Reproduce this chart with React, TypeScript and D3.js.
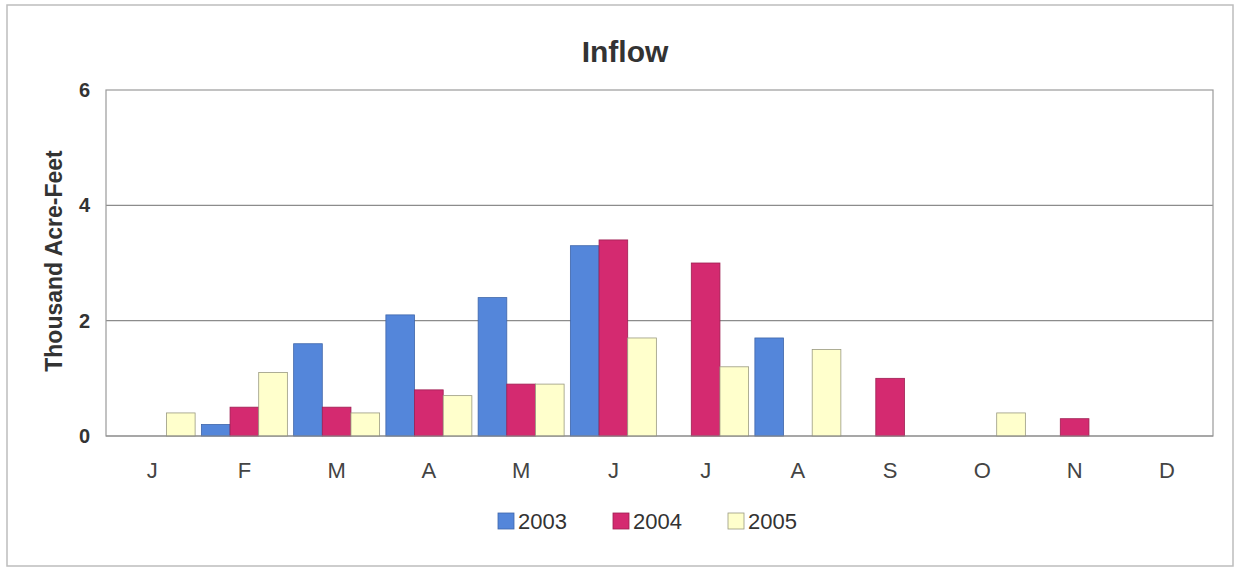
import React from "react";
import * as d3 from "d3";

const months = ["J", "F", "M", "A", "M", "J", "J", "A", "S", "O", "N", "D"];
const seriesNames = ["2003", "2004", "2005"];
const values2003 = [0, 0.2, 1.6, 2.1, 2.4, 3.3, 0, 1.7, 0, 0, 0, 0];
const values2004 = [0, 0.5, 0.5, 0.8, 0.9, 3.4, 3.0, 0, 1.0, 0, 0.3, 0];
const values2005 = [0.4, 1.1, 0.4, 0.7, 0.9, 1.7, 1.2, 1.5, 0, 0.4, 0, 0];
const yTicks = [0, 2, 4, 6];

const fills = ["#5486DA", "#D42A70", "#FFFFCC"];
const strokes = ["#3F66AA", "#9E1F52", "#9A9A80"];

export default function App() {
  const W = 1242, H = 571;
  const left = 106, right = 1213, top = 90, bottom = 436;
  const font = "'Liberation Sans', Arial, sans-serif";
  const seriesVals = [values2003, values2004, values2005];
  const idx = months.map((_, i) => i);
  const x = d3.scaleBand<number>().domain(idx).range([left, right]).paddingInner(0.068).paddingOuter(0.034);
  const xs = d3.scaleBand<number>().domain([0, 1, 2]).range([0, x.bandwidth()]);
  const y = d3.scaleLinear().domain([0, 6]).range([bottom, top]);

  return (
    <svg width={W} height={H} style={{ position: "absolute", left: 0, top: 0, background: "#fff" }} fontFamily={font}>
      <rect x={7} y={5} width={1226} height={561} fill="#fff" stroke="#bdbdbd" strokeWidth={1.5} />
      <text x={625} y={62} textAnchor="middle" fontSize={30} fontWeight="bold" fill="#333">Inflow</text>
      {yTicks.filter(t => t > 0 && t < 6).map(t => (
        <line key={t} x1={left} x2={right} y1={y(t)} y2={y(t)} stroke="#8c8c8c" strokeWidth={1.2} />
      ))}
      <rect x={left} y={top} width={right - left} height={bottom - top} fill="none" stroke="#9a9a9a" strokeWidth={1.2} />
      {yTicks.map(t => (
        <text key={t} x={90} y={y(t) + 7} textAnchor="end" fontSize={20} fontWeight="bold" fill="#333">{t}</text>
      ))}
      <text transform={`translate(62,261) rotate(-90)`} textAnchor="middle" fontSize={23} fontWeight="bold" fill="#333">Thousand Acre-Feet</text>
      {seriesVals.map((vals, s) =>
        vals.map((v, i) => v > 0 ? (
          <rect key={`${s}-${i}`} x={(x(i) as number) + (xs(s) as number)} y={y(v)} width={xs.bandwidth()} height={y(0) - y(v)}
            fill={fills[s]} stroke={strokes[s]} strokeWidth={0.8} />
        ) : null)
      )}
      <line x1={left} x2={right} y1={bottom} y2={bottom} stroke="#8c8c8c" strokeWidth={1.2} />
      {months.map((m, i) => (
        <text key={i} x={(x(i) as number) + x.bandwidth() / 2} y={478} textAnchor="middle" fontSize={22} fill="#444">{m}</text>
      ))}
      {seriesNames.map((n, s) => {
        const lx = [498, 613, 728][s];
        return (
          <g key={n}>
            <rect x={lx} y={513} width={16} height={16} fill={fills[s]} stroke={strokes[s]} strokeWidth={0.8} />
            <text x={lx + 20} y={529} fontSize={22} fill="#333">{n}</text>
          </g>
        );
      })}
    </svg>
  );
}
